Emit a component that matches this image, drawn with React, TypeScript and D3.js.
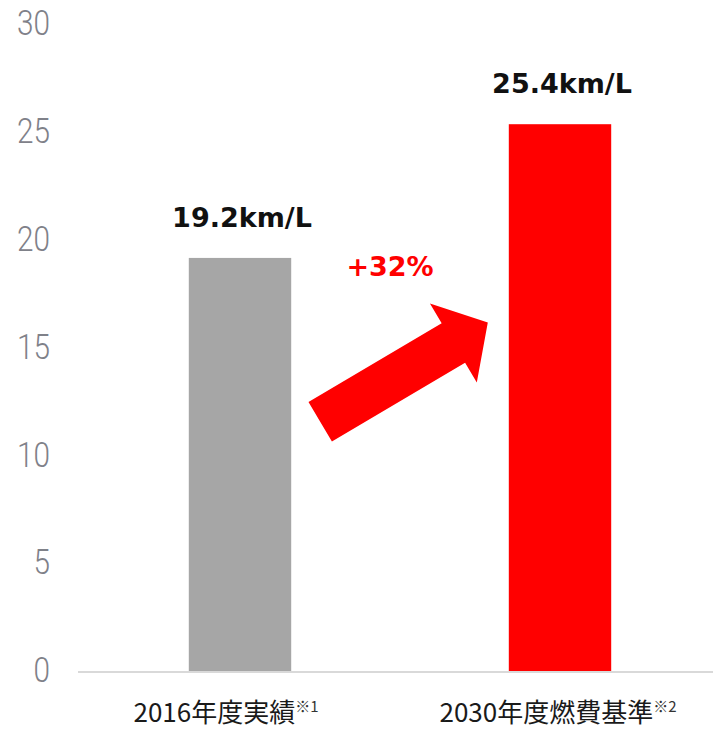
import * as d3 from "d3";
import { useEffect, useRef } from "react";

const categories = ["2016年度実績", "2030年度燃費基準"];
const notes = ["※1", "※2"];
const values = [19.2, 25.4];
const valueLabels = ["19.2km/L", "25.4km/L"];
const barColors = ["#a6a6a6", "#ff0000"];
const yTicks = [0, 5, 10, 15, 20, 25, 30];
const growthLabel = "+32%";
// arrow runs between these two values
const arrowFrom = 11.6;
const arrowTo = 16.2;

const W = 713;
const H = 730;

export default function App() {
  const svgRef = useRef<SVGSVGElement | null>(null);

  useEffect(() => {
    if (!svgRef.current) return;
    const svg = d3.select(svgRef.current);
    svg.selectAll("*").remove();

    const x = d3.scaleBand().domain(categories).range([80, 720]).paddingInner(0.68).paddingOuter(0.34);
    const y = d3.scaleLinear().domain([0, 30]).range([672, 25]);

    // y tick labels (no axis line), narrow light digits
    svg
      .append("g")
      .selectAll("text")
      .data(yTicks)
      .join("text")
      .attr("x", 50)
      .attr("y", (d) => y(d) + 1)
      .attr("text-anchor", "end")
      .attr("dominant-baseline", "middle")
      .attr("font-family", "Roboto, sans-serif")
      .attr("font-weight", 300)
      .attr("font-size", 35)
      .attr("fill", "#7f8189")
      .attr("textLength", (d) => String(d).length * 16.5)
      .attr("lengthAdjust", "spacingAndGlyphs")
      .text((d) => d);

    // bars
    svg
      .append("g")
      .selectAll("rect")
      .data(values)
      .join("rect")
      .attr("x", (_, i) => x(categories[i])!)
      .attr("y", (d) => y(d))
      .attr("width", x.bandwidth())
      .attr("height", (d) => y(0) - y(d))
      .attr("fill", (_, i) => barColors[i]);

    // baseline
    svg
      .append("line")
      .attr("x1", 78)
      .attr("x2", W)
      .attr("y1", y(0))
      .attr("y2", y(0))
      .attr("stroke", "#d9d9d9")
      .attr("stroke-width", 2);

    // value labels
    svg
      .append("g")
      .selectAll("text")
      .data(values)
      .join("text")
      .attr("x", (_, i) => x(categories[i])! + x.bandwidth() / 2 + 2)
      .attr("y", (d) => y(d) - 31)
      .attr("text-anchor", "middle")
      .attr("font-family", "'DejaVu Sans', Verdana, sans-serif")
      .attr("font-weight", "bold")
      .attr("font-size", 27)
      .attr("fill", "#111")
      .text((_, i) => valueLabels[i]);

    // category labels
    const cat = svg
      .append("g")
      .selectAll("text")
      .data(categories)
      .join("text")
      .attr("x", (d, i) => x(d)! + x.bandwidth() / 2 - (i === 0 ? 14 : 2))
      .attr("y", 722)
      .attr("text-anchor", "middle")
      .attr("font-family", "'Noto Sans CJK JP', sans-serif")
      .attr("font-size", 26)
      .attr("fill", "#1a1a1a");
    cat.append("tspan").text((d) => d);
    cat
      .append("tspan")
      .attr("dy", -10)
      .attr("font-size", 15)
      .attr("fill", "#333")
      .text((_, i) => notes[i]);

    // growth arrow
    const x0 = x(categories[0])! + x.bandwidth() + 29;
    const x1 = x(categories[1])! - 21;
    const y0 = y(arrowFrom);
    const y1 = y(arrowTo);
    const len = Math.hypot(x1 - x0, y1 - y0);
    const ang = (Math.atan2(y1 - y0, x1 - x0) * 180) / Math.PI;
    const head = 40;
    const shaft = 23;
    const wing = 46;
    const pts: [number, number][] = [
      [0, -shaft],
      [len - head, -shaft],
      [len - head, -wing],
      [len, 0],
      [len - head, wing],
      [len - head, shaft],
      [0, shaft],
    ];
    svg
      .append("path")
      .attr("d", d3.line()(pts) + "Z")
      .attr("fill", "#ff0000")
      .attr("transform", `translate(${x0},${y0}) rotate(${ang})`);

    svg
      .append("text")
      .attr("x", (x0 + x1) / 2 - 14)
      .attr("y", y(18.3) - 1)
      .attr("text-anchor", "middle")
      .attr("font-family", "'DejaVu Sans', Verdana, sans-serif")
      .attr("font-weight", "bold")
      .attr("font-size", 27)
      .attr("fill", "#ff0000")
      .text(growthLabel);
  }, []);

  return (
    <svg
      ref={svgRef}
      width={W}
      height={H}
      style={{ position: "absolute", left: 0, top: 0, background: "#fff" }}
    />
  );
}
